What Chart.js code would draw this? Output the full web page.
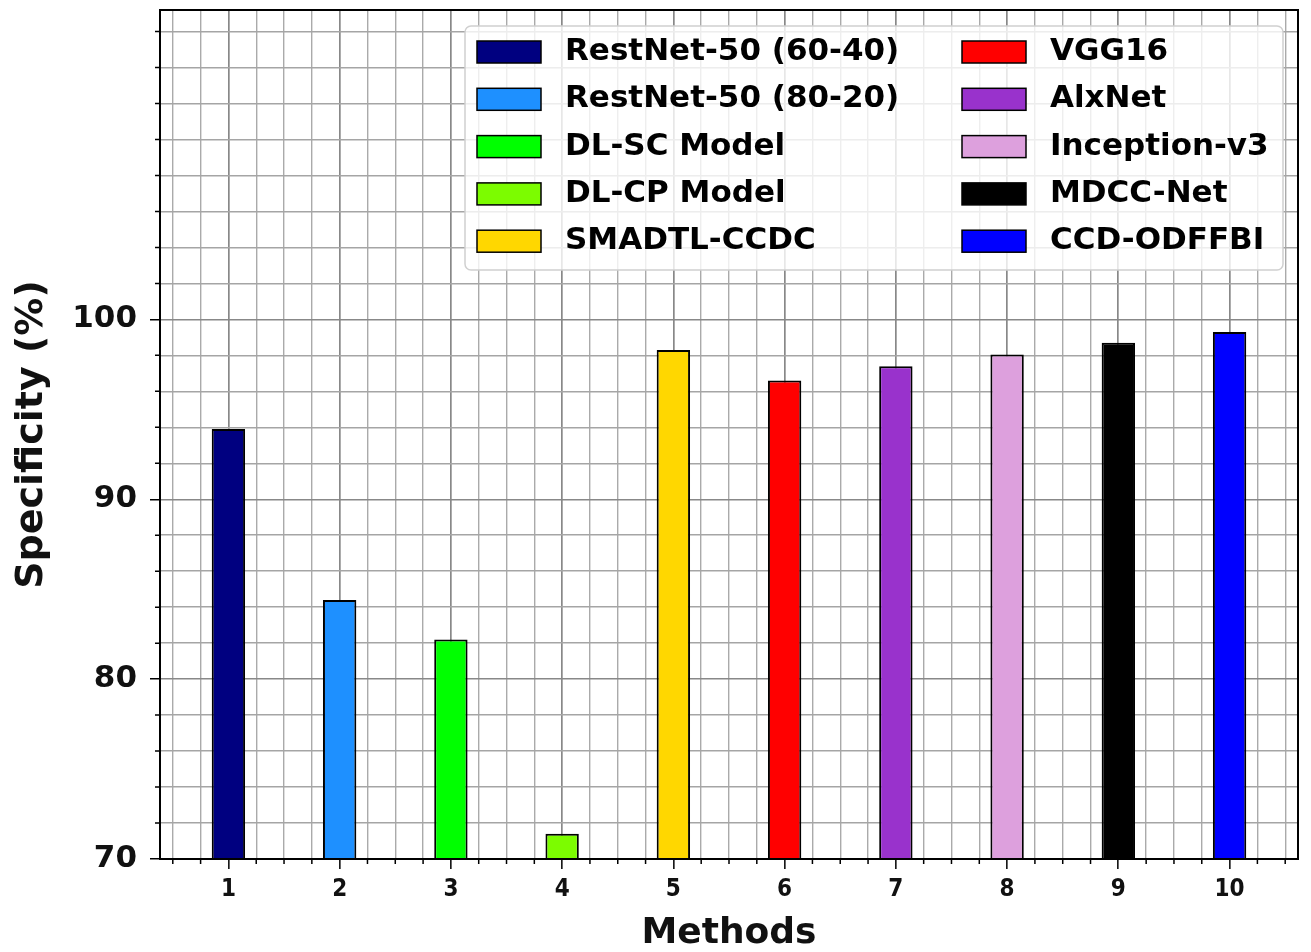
<!DOCTYPE html>
<html>
<head>
<meta charset="utf-8">
<script src="https://cdn.jsdelivr.net/npm/chart.js@4.4.1/dist/chart.umd.min.js"></script>
<style>
  html, body { margin: 0; padding: 0; background: #fff; }
  #wrap { width: 1311px; height: 952px; position: relative; }
</style>
</head>
<body>
<div id="wrap"><canvas id="chart"></canvas></div>
<script>
// --- data ---
const methods = ['RestNet-50 (60-40)', 'RestNet-50 (80-20)', 'DL-SC Model', 'DL-CP Model', 'SMADTL-CCDC',
                 'VGG16', 'AlxNet', 'Inception-v3', 'MDCC-Net', 'CCD-ODFFBI'];
const positions = [1, 2, 3, 4, 5, 6, 7, 8, 9, 10];
const specificity = [93.9, 84.4, 82.2, 71.4, 98.3, 96.6, 97.4, 98.05, 98.7, 99.3];
const barColors = ['#000080', '#1E90FF', '#00FF00', '#7CFC00', '#FFD700',
                   '#FF0000', '#9932CC', '#DDA0DD', '#000000', '#0000FF'];
const yTickLabels = [70, 80, 90, 100];

const FONT = 'DejaVu Sans';

// frame round the plot area (matplotlib spines)
const frame = {
    id: 'frame',
    afterDraw(chart) {
        const { ctx, chartArea: a } = chart;
        ctx.save();
        ctx.strokeStyle = '#000';
        ctx.lineWidth = 2;
        ctx.strokeRect(a.left, a.top, a.right - a.left, a.bottom - a.top);
        ctx.restore();
    }
};

// short minor tick marks
const minorTicks = {
    id: 'minorTicks',
    afterDraw(chart) {
        const { ctx, chartArea: a, scales } = chart;
        ctx.save();
        ctx.strokeStyle = '#000';
        ctx.lineWidth = 1.5;
        ctx.beginPath();
        scales.x.ticks.forEach(t => {
            if (Number.isInteger(t.value)) return;
            const px = scales.x.getPixelForValue(t.value);
            ctx.moveTo(px, a.bottom);
            ctx.lineTo(px, a.bottom + 5);
        });
        scales.y.ticks.forEach(t => {
            if (yTickLabels.includes(t.value)) return;
            const py = scales.y.getPixelForValue(t.value);
            ctx.moveTo(a.left, py);
            ctx.lineTo(a.left - 5, py);
        });
        ctx.stroke();
        ctx.restore();
    }
};

// two-column legend inside the plot, like matplotlib ncol=2
const boxLegend = {
    id: 'boxLegend',
    afterDatasetsDraw(chart) {
        const { ctx, chartArea: a } = chart;
        const sets = chart.data.datasets;
        const w = 818, h = 244;
        const x0 = a.right - 15 - w, y0 = a.top + 16;
        ctx.save();
        ctx.beginPath();
        ctx.roundRect(x0, y0, w, h, 6);
        ctx.fillStyle = 'rgba(255,255,255,0.8)';
        ctx.fill();
        ctx.strokeStyle = '#d0d0d0';
        ctx.lineWidth = 1.5;
        ctx.stroke();

        ctx.font = 'bold 31px ' + FONT;
        ctx.textBaseline = 'middle';
        ctx.textAlign = 'left';
        sets.forEach((ds, i) => {
            const col = Math.floor(i / 5), row = i % 5;
            const hx = x0 + 12 + col * 485;
            const cy = y0 + 26 + row * 47.3;
            ctx.fillStyle = ds.backgroundColor;
            ctx.fillRect(hx, cy - 11, 64, 22);
            ctx.strokeStyle = '#000';
            ctx.lineWidth = 1.5;
            ctx.strokeRect(hx, cy - 11, 64, 22);
            ctx.fillStyle = '#000';
            ctx.fillText(ds.label, hx + 88, cy);
        });
        ctx.restore();
    }
};

// bar width is measured against the 0.25 tick spacing, so 1.2 gives 0.3 units
const datasets = methods.map((name, i) => ({
    label: name,
    data: [{ x: positions[i], y: specificity[i] }],
    backgroundColor: barColors[i],
    borderColor: '#000',
    borderWidth: 2,
    barPercentage: 1.2,
    categoryPercentage: 1.0,
    grouped: false
}));

new Chart(document.getElementById('chart'), {
    type: 'bar',
    data: { datasets },
    plugins: [boxLegend, minorTicks, frame],
    options: {
        responsive: true,
        maintainAspectRatio: false,
        animation: false,
        layout: { padding: { top: 10, right: 13, left: 0, bottom: 0 } },
        plugins: { legend: { display: false }, tooltip: { enabled: false } },
        scales: {
            x: {
                type: 'linear',
                offset: false,
                min: 0.385,
                max: 10.615,
                afterFit: s => { s.height = 93; s.paddingLeft = 0; s.paddingRight = 0; },
                ticks: {
                    stepSize: 0.25,
                    includeBounds: false,
                    autoSkip: false,
                    maxRotation: 0,
                    padding: 6,
                    color: '#111',
                    font: { family: 'DejaVu Sans Condensed, ' + FONT, weight: 'bold', size: 24 },
                    callback: v => Number.isInteger(v) ? String(v) : ''
                },
                grid: {
                    offset: false,
                    color: c => Number.isInteger(c.tick && c.tick.value) ? '#888' : '#aaa',
                    lineWidth: c => Number.isInteger(c.tick && c.tick.value) ? 1.7 : 1.4,
                    tickLength: 10,
                    tickWidth: 1.5,
                    tickColor: c => Number.isInteger(c.tick && c.tick.value) ? '#000' : 'rgba(0,0,0,0)'
                },
                border: { color: '#000', width: 2 },
                title: {
                    display: true,
                    text: 'Methods',
                    color: '#111',
                    font: { family: FONT, weight: 'bold', size: 36 },
                    padding: { top: 0, bottom: -3 }
                }
            },
            y: {
                min: 70,
                max: 117.2,
                afterFit: s => { s.width = 160; s.paddingTop = 0; s.paddingBottom = 0; },
                ticks: {
                    stepSize: 2,
                    includeBounds: false,
                    autoSkip: false,
                    padding: 13,
                    color: '#111',
                    font: { family: FONT, weight: 'bold', size: 31 },
                    callback: v => yTickLabels.includes(v) ? String(v) : ''
                },
                grid: {
                    color: c => yTickLabels.includes(c.tick && c.tick.value) ? '#888' : '#a5a5a5',
                    lineWidth: 1.5,
                    tickLength: 10,
                    tickWidth: 1.5,
                    tickColor: c => yTickLabels.includes(c.tick && c.tick.value) ? '#000' : 'rgba(0,0,0,0)'
                },
                border: { color: '#000', width: 2 },
                title: {
                    display: true,
                    text: 'Specificity (%)',
                    color: '#111',
                    font: { family: FONT, weight: 'bold', size: 38 },
                    padding: { top: 9, bottom: 0 }
                }
            }
        }
    }
});
</script>
</body>
</html>
